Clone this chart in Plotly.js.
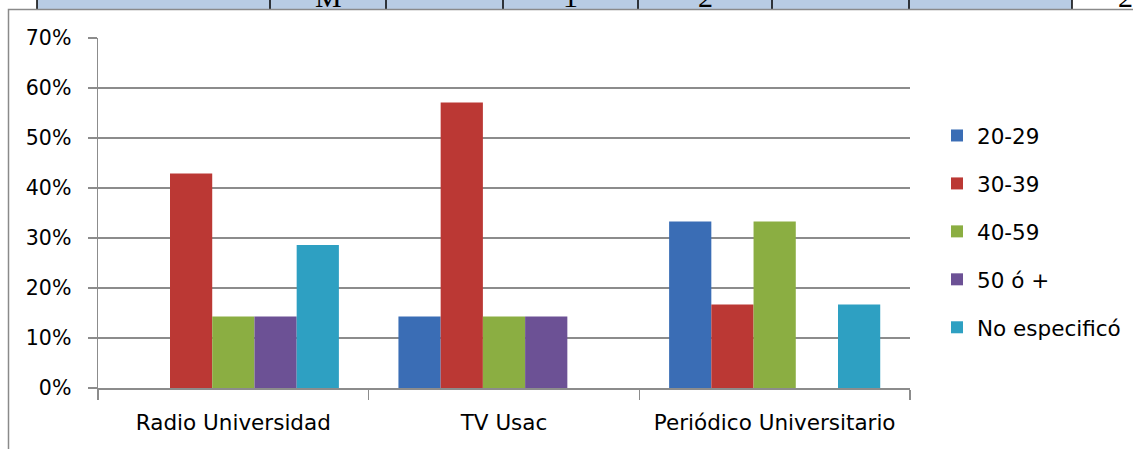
<!DOCTYPE html>
<html><head><meta charset="utf-8">
<script src="https://cdn.plot.ly/plotly-3.0.1.min.js"></script>
<style>html,body{margin:0;padding:0;background:#fff}#c{width:1133px;height:449px}</style>
</head><body><div id="c"></div>
<script>
const categories = ["Radio Universidad", "TV Usac", "Periódico Universitario"];
const seriesNames = ["20-29", "30-39", "40-59", "50 ó +", "No especificó"];
const v2029 = [0, 0.143, 0.333];
const v3039 = [0.429, 0.571, 0.167];
const v4059 = [0.143, 0.143, 0.333];
const v50 = [0.143, 0.143, 0];
const vNE = [0.286, 0, 0.167];
const yTicks = [0, 0.1, 0.2, 0.3, 0.4, 0.5, 0.6, 0.7];
const yTickText = ["0%", "10%", "20%", "30%", "40%", "50%", "60%", "70%"];
const headerTexts = ["M", "1", "2", "2"];

const colors = ["#3a6db5", "#bb3834", "#8bae42", "#6c5195", "#2ea0c2"];
const values = [v2029, v3039, v4059, v50, vNE];

const W = 1133, H = 449, ML = 98, MR = 223, MT = 38, MB = 61;
const PW = W - ML - MR, PH = H - MT - MB;
const px = x => (x - ML) / PW;
const py = y => (H - MB - y) / PH;

const traces = values.map((v, i) => ({
  type: "bar", name: seriesNames[i], x: categories, y: v, legendgroup: "g" + i,
  marker: {color: colors[i], line: {width: 0}},
  hoverinfo: "skip"
}));

const shapes = [];
shapes.push({type: "rect", xref: "paper", yref: "paper", x0: px(37), x1: px(1072), y0: py(9), y1: py(-2), fillcolor: "#b8cce4", line: {width: 0}, layer: "below"});
[37, 270, 386, 503, 638, 772, 909, 1072].forEach(x => shapes.push({type: "line", xref: "paper", yref: "paper", x0: px(x), x1: px(x), y0: py(9), y1: py(-2), line: {color: "#000", width: 1.5}}));
shapes.push({type: "path", xref: "paper", yref: "paper", path: `M ${px(8.5)} ${py(460)} L ${px(8.5)} ${py(9.5)} L ${px(1140)} ${py(9.5)}`, line: {color: "#8a8a8a", width: 1.5}});

const hdrX = [328, 570, 705, 1125];
const annotations = headerTexts.map((t, i) => ({
  text: t, xref: "paper", yref: "paper", x: px(hdrX[i]), y: py(15), xanchor: "center", yanchor: "bottom",
  showarrow: false, font: {family: "Liberation Serif", size: 30, color: "#000"}
}));

const FONT = "'DejaVu Sans', sans-serif";
const layout = {
  width: W, height: H, margin: {l: ML, r: MR, t: MT, b: MB, autoexpand: false},
  paper_bgcolor: "#fff", plot_bgcolor: "#fff",
  barmode: "group", bargap: 0.22, bargroupgap: 0,
  font: {family: FONT, size: 21, color: "#000"},
  xaxis: {type: "category", showgrid: false, showline: true, linecolor: "#8c8c8c", linewidth: 1.5,
    ticks: "outside", tickson: "boundaries", ticklen: 10, tickcolor: "#8c8c8c", tickwidth: 1.5,
    tickfont: {family: FONT, size: 21.5}, ticklabelstandoff: 15, fixedrange: true},
  yaxis: {range: [0, 0.7], tickvals: yTicks, ticktext: yTickText, showgrid: true, gridcolor: "#8c8c8c", gridwidth: 1.5,
    showline: true, linecolor: "#8c8c8c", linewidth: 1.5, ticks: "outside", ticklen: 9, tickcolor: "#8c8c8c", tickwidth: 1.5,
    zeroline: false, tickfont: {family: FONT, size: 20.5}, ticklabelstandoff: 12, fixedrange: true},
  legend: {x: px(937), y: py(115), xanchor: "left", yanchor: "top", font: {family: FONT, size: 21.5}, tracegroupgap: 17,
    itemwidth: 30, bgcolor: "rgba(0,0,0,0)"},
  showlegend: true,
  shapes: shapes, annotations: annotations
};
Plotly.newPlot("c", traces, layout, {displayModeBar: false, staticPlot: true});
</script></body></html>
